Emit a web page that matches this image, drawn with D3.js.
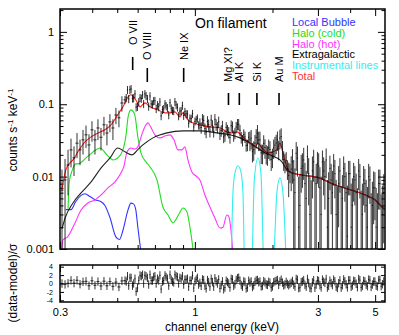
<!doctype html>
<html>
<head>
<meta charset="utf-8">
<style>
body{ margin:0; background:#fff; }
text{ font-family: "Liberation Sans", Arial, sans-serif; }
.tick text{ font-family: "Liberation Sans", Arial, sans-serif; font-size:11px; fill:#000; }
.tick line{ stroke:#000; stroke-width:1; }
</style>
<script src="https://d3js.org/d3.v7.min.js"></script>
</head>
<body>
<svg width="399" height="335"></svg>
<script>
// spectrum bins (keV), counts s-1 keV-1, 1-sigma errors, residuals
var dataE = [0.3054,0.3138,0.3223,0.3310,0.3400,0.3492,0.3587,0.3684,0.3784,0.3886,0.3991,0.4099,0.4210,0.4325,0.4442,0.4562,0.4685,0.4812,0.4943,0.5077,0.5214,
  0.536,0.548,0.560,0.573,0.586,0.599,0.613,0.627,0.640,0.655,0.670,0.685,0.700,0.716,0.732,0.749,0.766,0.783,0.801,0.819,0.837,0.856,0.875,0.895,0.915,0.936,0.957,0.979,1.001,1.023,
  1.046,1.070,1.094,1.119,1.144,1.170,1.196,1.223,1.251,1.279,1.308,1.338,1.368,1.399,1.430,1.463,1.496,1.530,1.564,1.599,
  1.635,1.672,1.710,1.749,1.788,1.828,1.870,1.912,1.955,1.999,2.044,2.090,2.137,2.186,2.235,2.285,2.337,
  2.390,2.444,2.499,2.555,2.613,2.672,2.732,2.793,2.856,2.921,2.987,3.054,3.123,3.193,3.265,3.339,3.414,3.491,3.570,3.651,3.733,3.817,3.903,3.991,4.081,4.173,4.268,4.364,4.462,4.563,4.666,4.772,4.879,4.989,5.102,5.217,5.335];
var dataV = [0.0065,0.009,0.0145,0.0234,0.0182,0.029,0.0234,0.0322,0.0378,0.0274,0.0443,0.0322,0.047,0.035,0.052,0.040,0.057,0.047,0.071,0.065,0.104,
  0.115,0.158,0.159,0.121,0.139,0.093,0.123,0.135,0.139,0.119,0.130,0.100,0.112,0.098,0.108,0.084,0.101,0.089,0.105,0.082,0.108,0.091,0.080,0.096,0.079,0.073,0.064,0.074,0.058,0.064,
  0.054,0.062,0.046,0.058,0.0425,0.051,0.062,0.048,0.039,0.050,0.0368,0.044,0.0348,0.049,0.040,0.053,0.0438,0.0318,0.0355,0.0273,
  0.0322,0.0224,0.0290,0.0397,0.0322,0.0212,0.0252,0.0202,0.0237,0.0187,0.0272,0.0323,0.0342,0.0239,0.0159,0.0129,0.0116,
  0.016,0.006,0.018,0.004,0.014,0.008,0.019,0.003,0.012,0.0008,0.015,0.007,0.016,0.010,0.002,0.013,0.006,0.011,0.0008,0.012,0.005,0.010,0.0015,0.011,0.004,0.009,0.0009,0.010,0.003,0.008,0.002,0.009,0.004,0.007,0.0009,0.008,0.003];
var dataErr = [0.006,0.0085,0.009,0.010,0.008,0.011,0.009,0.012,0.013,0.011,0.014,0.012,0.015,0.012,0.015,0.013,0.016,0.015,0.018,0.017,0.025,
  0.015,0.0205,0.0207,0.0157,0.018,0.0121,0.016,0.0175,0.018,0.0155,0.0169,0.013,0.0146,0.0127,0.014,0.0109,0.0131,0.0116,0.0137,0.0107,0.014,0.0118,0.0104,0.0125,0.0103,0.0095,0.0083,0.0096,0.0075,0.0083,
  0.0097,0.0112,0.0083,0.0104,0.0077,0.0092,0.0112,0.0086,0.007,0.009,0.0066,0.0079,0.0063,0.0088,0.0072,0.0095,0.0079,0.0057,0.0064,0.0049,
  0.0097,0.0067,0.0087,0.0119,0.0097,0.0064,0.0076,0.0061,0.0071,0.0056,0.0082,0.0097,0.0103,0.0072,0.0048,0.0039,0.0035,
  0.008,0.007,0.008,0.007,0.007,0.0075,0.008,0.007,0.007,0.009,0.007,0.0065,0.007,0.0065,0.007,0.0065,0.006,0.006,0.0065,0.006,0.0055,0.0055,0.006,0.0055,0.0055,0.005,0.006,0.005,0.005,0.0048,0.0052,0.0048,0.0045,0.0045,0.005,0.0045,0.0045];
var resid = [-0.02,-0.22,0.06,0.75,0.09,0.77,-0.17,0.4,0.52,-0.53,0.64,-0.42,0.45,-0.58,0.55,-0.54,0.44,-0.67,0.33,-0.82,0.6,
  0.70,1.73,1.34,-0.51,1.13,-1.05,1.92,2.09,1.92,1.34,2.09,0.70,1.73,1.13,1.92,0.47,1.92,1.13,2.09,0.47,2.09,1.54,1.34,1.73,0.92,1.13,0.70,1.92,0.47,1.34,
  0.17,0.97,-0.56,0.82,-0.76,0.34,1.25,0.0,-1.17,0.51,-0.96,0.34,-0.96,0.97,-0.18,1.25,0.66,-0.76,0.34,-0.96,
  0.21,-0.83,0.40,0.83,0.49,-0.57,0.30,-0.33,0.21,-0.70,0.49,0.83,0.49,0.21,-0.22,-0.11,-0.11,
  0.6,-0.73,0.88,-0.97,0.49,-0.33,1.08,-1.03,0.27,-1.03,0.74,-0.42,0.94,0.14,-0.97,0.68,-0.38,0.53,-1.06,0.75,-0.42,0.53,-0.92,0.76,-0.47,0.52,-0.88,0.8,-0.58,0.5,-0.65,0.79,-0.24,0.49,-0.72,0.87,-0.18];

// finer bins between the ones above (dense part of the spectrum)
var denseE = [0.542,0.554,0.566,0.579,0.592,0.606,0.620,0.633,0.647,0.662,0.677,0.692,0.708,0.724,0.740,0.757,0.774,0.792,0.810,0.828,0.846,0.865,0.885,0.905,0.925,0.946,0.968,0.990,1.012,1.034,
  1.058,1.082,1.106,1.131,1.157,1.183,1.209,1.237,1.265,1.293,1.323,1.353,1.383,1.414,1.446,1.479,1.513,1.547,1.581,1.617,
  1.653,1.691,1.729,1.768,1.808,1.849,1.891,1.933,1.977,2.021,2.067,2.113,2.161,2.210,2.260,2.311,2.363,
  2.417,2.471,2.527,2.584,2.642,2.702,2.762,2.824,2.888,2.954,3.020,3.088,3.158,3.229,3.302,3.376,3.452,3.530,3.610,3.692,3.775,3.860,3.947,4.036,4.127,4.220,4.316,4.413,4.512,4.614,4.719,4.825,4.934,5.045,5.159,5.276,5.40];
var denseV = [0.1226,0.1187,0.163,0.122,0.0912,0.1078,0.120,0.1015,0.131,0.0935,0.101,0.111,0.0865,0.092,0.0691,0.0864,0.095,0.0713,0.088,0.081,0.098,0.069,0.0815,0.0698,0.0738,0.0545,0.0633,0.0484,0.0613,0.0514,
  0.0477,0.0598,0.0413,0.0522,0.0606,0.0422,0.0525,0.0572,0.0433,0.0354,0.0479,0.041,0.0506,0.0369,0.0484,0.053,0.0349,0.0381,0.0269,0.035,
  0.0339,0.0236,0.0348,0.0321,0.0213,0.0287,0.021,0.025,0.0172,0.025,0.0291,0.024,0.0358,0.0172,0.0168,0.0104,0.0127,
  0.009,0.021,0.002,0.013,0.017,0.005,0.011,0.0009,0.016,0.008,0.014,0.003,0.012,0.017,0.005,0.009,0.014,0.003,0.008,0.0009,0.013,0.006,0.011,0.002,0.010,0.006,0.012,0.0009,0.009,0.004,0.010,0.0009,0.007,0.002,0.008,0.0009,0.006];
var denseErr = [0.0159,0.0154,0.0212,0.0159,0.0119,0.014,0.0156,0.0132,0.017,0.0122,0.0131,0.0144,0.0112,0.012,0.009,0.0112,0.0124,0.0093,0.0114,0.0105,0.0127,0.009,0.0106,0.0091,0.0096,0.0071,0.0082,0.0063,0.008,0.0067,
  0.0086,0.0108,0.0074,0.0094,0.0109,0.0076,0.0095,0.0103,0.0078,0.0064,0.0086,0.0074,0.0091,0.0066,0.0087,0.0095,0.0063,0.0069,0.0048,0.0063,
  0.0102,0.0071,0.0104,0.0096,0.0064,0.0086,0.0063,0.0075,0.0052,0.0075,0.0087,0.0072,0.0107,0.0052,0.005,0.0052,0.0064,
  0.008,0.009,0.008,0.007,0.008,0.007,0.007,0.008,0.0075,0.007,0.007,0.007,0.0065,0.0075,0.0065,0.006,0.0065,0.006,0.006,0.0065,0.006,0.0055,0.0055,0.006,0.0055,0.005,0.0055,0.0055,0.005,0.005,0.005,0.005,0.0048,0.005,0.0045,0.0048,0.0048];
var denseRes = [0.47,-0.51,1.34,0,-1.92,0.70,1.73,0,1.73,-0.25,0.70,1.54,0,0.70,-1.32,0.70,1.54,-0.51,0.92,0.24,1.73,0,1.13,-0.25,0.92,-0.77,0.70,-1.05,0.92,-0.25,
  -0.56,0.82,-1.17,0.34,1.11,-0.76,0.51,0.97,-0.37,-1.39,0.66,0,1.11,-0.56,0.82,1.38,-0.37,0.51,-1.17,0.66,
  0.49,-0.45,0.75,0.3,-0.7,0.58,-0.22,0.4,-0.97,0.3,0.67,-0.33,0.91,-0.45,0.4,-0.42,0.18,
  -0.28,1.09,-1.11,0.33,0.81,-0.77,0.1,-1.16,0.8,-0.27,0.61,-0.93,0.43,1.07,-0.57,0.1,0.92,-0.8,0.07,-1.0,0.97,-0.2,0.75,-0.78,0.64,-0.06,1.07,-0.93,0.66,-0.3,0.94,-0.84,0.44,-0.52,0.82,-0.65,0.5];

// model components [keV, counts s-1 keV-1]
var totalModel = [[0.3054,0.0066],[0.311,0.0096],[0.316,0.0124],[0.328,0.0155],[0.337,0.0170],[0.352,0.0220],[0.375,0.0302],[0.396,0.0354],[0.421,0.0402],[0.448,0.0443],[0.473,0.0519],[0.502,0.0713],[0.526,0.092],[0.551,0.1265],[0.565,0.135],[0.590,0.115],[0.613,0.092],[0.640,0.1045],[0.671,0.092],[0.719,0.0837],[0.766,0.076],[0.801,0.076],[0.837,0.0785],[0.875,0.067],[0.899,0.076],[0.940,0.0608],[0.983,0.0553],[1.046,0.0519],[1.144,0.0487],[1.251,0.0472],[1.332,0.0415],[1.393,0.0402],[1.456,0.0415],[1.536,0.0354],[1.635,0.0292],[1.710,0.0258],[1.756,0.0292],[1.820,0.0249],[1.92,0.0213],[2.08,0.0234],[2.137,0.0292],[2.195,0.0213],[2.275,0.0136],[2.38,0.01125],[2.60,0.01055],[3.04,0.0096],[3.49,0.0077],[4.06,0.0065],[4.56,0.0056],[4.99,0.0048],[5.36,0.0037],[5.46,0.0035]];
var extragalactic = [[0.3054,0.0019],[0.314,0.00268],[0.337,0.00433],[0.362,0.00595],[0.396,0.00845],[0.433,0.0132],[0.469,0.01815],[0.502,0.0249],[0.536,0.0220],[0.570,0.020],[0.600,0.0234],[0.629,0.0274],[0.688,0.0343],[0.779,0.0402],[0.899,0.0429],[1.046,0.0429],[1.218,0.0402],[1.368,0.0378],[1.496,0.0343],[1.635,0.0292],[1.870,0.0213],[2.044,0.0187],[2.176,0.0160],[2.275,0.0124],[2.38,0.01125],[2.60,0.01055],[3.04,0.0096],[3.49,0.0077],[4.06,0.0065],[4.56,0.0056],[4.99,0.0048],[5.36,0.0037],[5.46,0.0035]];
var localBubble = [[0.316,0.0035],[0.331,0.0035],[0.345,0.0045],[0.362,0.0055],[0.375,0.0058],[0.392,0.0053],[0.410,0.0048],[0.433,0.0045],[0.448,0.0040],[0.469,0.0027],[0.494,0.00147],[0.510,0.00135],[0.526,0.0018],[0.551,0.0035],[0.565,0.0043],[0.578,0.0042],[0.590,0.0035],[0.601,0.0020],[0.618,0.0009]];
var haloCold = [[0.3223,0.0036],[0.326,0.0085],[0.334,0.0120],[0.345,0.0150],[0.352,0.0150],[0.382,0.0187],[0.403,0.0220],[0.429,0.0249],[0.456,0.0200],[0.482,0.0170],[0.502,0.0181],[0.526,0.0234],[0.541,0.0378],[0.551,0.0670],[0.565,0.0837],[0.578,0.0785],[0.586,0.0691],[0.601,0.0354],[0.618,0.0213],[0.646,0.0160],[0.670,0.0136],[0.713,0.0090],[0.752,0.0038],[0.787,0.00295],[0.823,0.00229],[0.868,0.00305],[0.899,0.00369],[0.932,0.00325],[0.957,0.0020],[0.983,0.0010],[1.0,0.0005]];
var haloHot = [[0.305,0.0010],[0.308,0.00133],[0.321,0.00147],[0.343,0.00229],[0.362,0.00346],[0.385,0.00433],[0.410,0.00476],[0.433,0.00558],[0.460,0.00698],[0.490,0.00845],[0.517,0.01125],[0.530,0.0136],[0.546,0.0220],[0.565,0.0249],[0.586,0.0241],[0.601,0.0258],[0.624,0.0390],[0.646,0.0519],[0.658,0.0553],[0.674,0.0487],[0.700,0.0378],[0.732,0.0343],[0.770,0.0366],[0.801,0.0378],[0.830,0.0322],[0.860,0.0234],[0.891,0.0234],[0.915,0.0258],[0.940,0.0170],[0.974,0.0116],[1.01,0.0102],[1.046,0.0090],[1.094,0.00558],[1.144,0.00381],[1.196,0.00268],[1.251,0.00195],[1.285,0.0020],[1.33,0.00295],[1.35,0.00286],[1.38,0.00183],[1.40,0.0010],[1.42,0.0004]];
var instrumental = [[1.38,0.0004],[1.405,0.006],[1.430,0.0112],[1.469,0.0141],[1.509,0.0116],[1.536,0.006],[1.564,0.0004],
  [1.655,0.0004],[1.70,0.009],[1.756,0.0181],[1.804,0.011],[1.86,0.0004],
  [2.00,0.0004],[2.08,0.006],[2.137,0.0096],[2.195,0.006],[2.27,0.0004]];

var lineNames = ["O VII","O VIII","Ne IX","Mg XI?","Al K","Si K","Au M"];
var lineE = [0.574,0.654,0.905,1.35,1.487,1.74,2.12];

var legendNames = ["Local Bubble","Halo (cold)","Halo (hot)","Extragalactic","Instrumental lines","Total"];
var legendColors = ["#3333ff","#22dd22","#ff33ff","#000000","#33eeee","#ff3333"];

var xTicksMajor = [0.3,1,3,5];
var xTicksMinor = [0.4,0.5,0.6,0.7,0.8,0.9,2,4];
var yTicksMajor = [0.001,0.01,0.1,1];
var residTicks = [-4,-2,0,2,4];

var svg = d3.select("svg");

var x = d3.scaleLog().domain([0.3, 5.46]).range([60, 385]);
var y = d3.scaleLog().domain([0.001, 2.07]).range([249, 9]);
var yr = d3.scaleLinear().domain([-4.4, 4.4]).range([302, 265]);

var yMinor = [];
[0.001,0.01,0.1,1].forEach(function(d){
  for (var k = 2; k <= 9; k++) if (d*k < 2.07) yMinor.push(d*k);
});

svg.append("clipPath").attr("id","clipMain")
  .append("rect").attr("x",60).attr("y",9).attr("width",325).attr("height",240);
svg.append("clipPath").attr("id","clipRes")
  .append("rect").attr("x",60).attr("y",265).attr("width",325).attr("height",37);

// axes, ticks inward
function ax(gen, tx, ty, vals, size, fmt, pad){
  var g = svg.append("g").attr("transform","translate(" + tx + "," + ty + ")")
    .call(gen.tickValues(vals).tickSize(size).tickSizeOuter(0).tickPadding(pad || 3).tickFormat(fmt || ""));
  g.select(".domain").remove();
  return g;
}
ax(d3.axisBottom(x), 0, 249, xTicksMajor, -7);
ax(d3.axisBottom(x), 0, 249, xTicksMinor, -4);
ax(d3.axisTop(x), 0, 9, xTicksMajor, -7);
ax(d3.axisTop(x), 0, 9, xTicksMinor, -4);
ax(d3.axisLeft(y), 60, 0, yTicksMajor, -7, function(d){ return d; }, 6);
ax(d3.axisLeft(y), 60, 0, yMinor, -3.5);
ax(d3.axisRight(y), 385, 0, yTicksMajor, -7);
ax(d3.axisRight(y), 385, 0, yMinor, -3.5);

ax(d3.axisBottom(x), 0, 302, xTicksMajor, -7, function(d){ return d; }, 6);
ax(d3.axisBottom(x), 0, 302, xTicksMinor, -4);
ax(d3.axisTop(x), 0, 265, xTicksMajor, -7);
ax(d3.axisTop(x), 0, 265, xTicksMinor, -4);
var rl = ax(d3.axisLeft(yr), 60, 0, residTicks, -4, function(d){ return d; }, 7);
rl.selectAll("text").style("font-size","7px");
ax(d3.axisRight(yr), 385, 0, residTicks, -4);

// model curves
var line = d3.line()
  .x(function(d){ return x(d[0]); })
  .y(function(d){ return y(d[1]); })
  .curve(d3.curveMonotoneX);

var models = svg.append("g").attr("clip-path","url(#clipMain)");
[[haloCold,"#22dd22"],[localBubble,"#3333ff"],[haloHot,"#ff33ff"],[extragalactic,"#222222"],[instrumental,"#33eeee"]]
  .forEach(function(m){
    models.append("path").datum(m[0])
      .attr("d", line)
      .style("fill","none").style("stroke", m[1]).style("stroke-width", 1.1);
  });

// data with error bars: both bin sets merged in energy order
var all = dataE.map(function(e, i){ return {e:e, v:dataV[i], s:dataErr[i], r:resid[i]}; })
  .concat(denseE.map(function(e, i){ return {e:e, v:denseV[i], s:denseErr[i], r:denseRes[i]}; }))
  .sort(function(a, b){ return a.e - b.e; });
all.forEach(function(d, i){
  var n = all.length;
  d.lo = i > 0 ? Math.sqrt(all[i-1].e*d.e) : d.e*d.e/Math.sqrt(all[1].e*d.e);
  d.hi = i < n-1 ? Math.sqrt(all[i+1].e*d.e) : d.e*d.e/Math.sqrt(all[n-2].e*d.e);
});

var dg = svg.append("g").attr("clip-path","url(#clipMain)")
  .style("stroke","#000").style("stroke-width",1).style("stroke-opacity",0.8);
dg.selectAll(".ev").data(all).enter().append("line")
  .attr("x1", function(d){ return x(d.e); })
  .attr("x2", function(d){ return x(d.e); })
  .attr("y1", function(d){ return y(Math.max(d.v - d.s, 0.0008)); })
  .attr("y2", function(d){ return y(d.v + d.s); });
dg.selectAll(".eh").data(all.filter(function(d){ return d.v > 0.001; })).enter().append("line")
  .attr("x1", function(d){ return x(d.lo); })
  .attr("x2", function(d){ return x(d.hi); })
  .attr("y1", function(d){ return y(d.v); })
  .attr("y2", function(d){ return y(d.v); });

models.append("path").datum(totalModel)
  .attr("d", line)
  .style("fill","none").style("stroke","#ff2222").style("stroke-width",1.1);

// residual panel
svg.append("line")
  .attr("x1", x(0.3)).attr("x2", x(5.46))
  .attr("y1", yr(0)).attr("y2", yr(0))
  .style("stroke","#ff3333").style("stroke-width",1.2);
var rg = svg.append("g").attr("clip-path","url(#clipRes)")
  .style("stroke","#000").style("stroke-width",1).style("stroke-opacity",0.8);
rg.selectAll(".rv").data(all).enter().append("line")
  .attr("x1", function(d){ return x(d.e); })
  .attr("x2", function(d){ return x(d.e); })
  .attr("y1", function(d){ return yr(d.r - 1); })
  .attr("y2", function(d){ return yr(d.r + 1); });
rg.selectAll(".rh").data(all).enter().append("line")
  .attr("x1", function(d){ return x(d.lo); })
  .attr("x2", function(d){ return x(d.hi); })
  .attr("y1", function(d){ return yr(d.r); })
  .attr("y2", function(d){ return yr(d.r); });

// frames
svg.append("rect").attr("x",60).attr("y",9).attr("width",325).attr("height",240)
  .style("fill","none").style("stroke","#000").style("stroke-width",1.5);
svg.append("rect").attr("x",60).attr("y",265).attr("width",325).attr("height",37)
  .style("fill","none").style("stroke","#000").style("stroke-width",1.5);

// line identifications
var labelRows = [[45,57,70],[60,68,82],[60,68,82],[82,93,105],[82,93,105],[82,93,105],[82,93,105]];
lineNames.forEach(function(name, i){
  var lx = x(lineE[i]), r = labelRows[i];
  svg.append("text")
    .attr("transform","translate(" + (lx + 4) + "," + r[0] + ") rotate(-90)")
    .style("font-size","11px")
    .text(name);
  svg.append("line")
    .attr("x1", lx).attr("x2", lx).attr("y1", r[1]).attr("y2", r[2])
    .style("stroke","#000").style("stroke-width",1.6);
});

svg.append("text").attr("x",195).attr("y",28)
  .style("font-size","14px").text("On filament");

legendNames.forEach(function(name, i){
  svg.append("text").attr("x",292).attr("y",26 + i*10.8)
    .style("font-size","11px").style("fill", legendColors[i])
    .text(name);
});

// axis titles
var yt = svg.append("text")
  .attr("transform","translate(17,130) rotate(-90)")
  .attr("text-anchor","middle").style("font-size","12px");
yt.append("tspan").text("counts s");
yt.append("tspan").attr("baseline-shift","super").style("font-size","8px").text("-1");
yt.append("tspan").text(" keV");
yt.append("tspan").attr("baseline-shift","super").style("font-size","8px").text("-1");

svg.append("text")
  .attr("transform","translate(17,283) rotate(-90)")
  .attr("text-anchor","middle").style("font-size","12px")
  .text("(data-model)/\u03c3");

svg.append("text").attr("x",222).attr("y",331)
  .attr("text-anchor","middle").style("font-size","12px")
  .text("channel energy (keV)");
</script>
</body>
</html>
